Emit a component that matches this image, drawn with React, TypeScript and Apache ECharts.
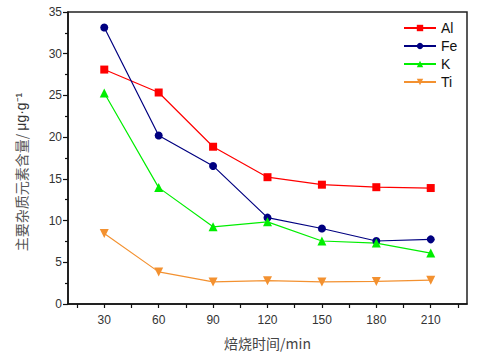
import React, { useEffect, useRef } from "react";
import * as echarts from "echarts";

const times = [30, 60, 90, 120, 150, 180, 210];
const xLabelValues = [30, 60, 90, 120, 150, 180, 210];
const xTickValues = [15, 30, 45, 60, 75, 90, 105, 120, 135, 150, 165, 180, 195, 210, 225];
const alValues = [28.1, 25.35, 18.85, 15.2, 14.3, 14.0, 13.9];
const feValues = [33.15, 20.2, 16.55, 10.35, 9.05, 7.55, 7.75];
const kValues = [25.3, 13.95, 9.25, 9.85, 7.55, 7.3, 6.1];
const tiValues = [8.45, 3.85, 2.65, 2.8, 2.65, 2.7, 2.85];

const FONT = "'Liberation Sans', Arial, 'Noto Sans CJK SC', sans-serif";

function pairs(vals: number[]) {
  return times.map((t, i) => [t, vals[i]]);
}

export default function App() {
  const ref = useRef<HTMLDivElement>(null);
  useEffect(() => {
    if (!ref.current) return;
    const chart = echarts.init(ref.current, null, { renderer: "svg" });
    const mk = (name: string, vals: number[], color: string, symbol: string, size: number, rot = 0) => ({
      name,
      type: "line",
      data: pairs(vals),
      symbol,
      symbolSize: size,
      symbolRotate: rot,
      showAllSymbol: true,
      itemStyle: { color },
      lineStyle: { color, width: 1.2 },
    });
    chart.setOption({
      animation: false,
      backgroundColor: "#fff",
      textStyle: { fontFamily: FONT },
      grid: { left: 68, right: 10, top: 12, bottom: 50, show: true, borderColor: "#222", borderWidth: 1.5, backgroundColor: "transparent" },
      legend: {
        orient: "vertical",
        left: 398,
        top: 16,
        itemWidth: 32,
        itemHeight: 8,
        itemGap: 4,
        textStyle: { fontSize: 14, color: "#111", fontFamily: FONT },
        data: ["Al", "Fe", "K", "Ti"],
      },
      xAxis: {
        type: "value",
        min: 10,
        max: 230,
        name: "焙烧时间/min",
        nameLocation: "middle",
        nameGap: 32,
        nameTextStyle: { fontSize: 14, color: "#444", fontFamily: "'Noto Sans CJK SC', 'Liberation Sans', sans-serif" },
        axisLine: { show: true, onZero: false, lineStyle: { color: "#111", width: 1.5 } },
        axisTick: { show: true, customValues: xTickValues, length: 4, lineStyle: { color: "#111", width: 1.2 } },
        axisLabel: { customValues: xLabelValues, fontSize: 12, color: "#333", margin: 10, fontFamily: FONT },
        splitLine: { show: false },
      },
      yAxis: {
        type: "value",
        min: 0,
        max: 35,
        interval: 5,
        name: "{c|主要杂质元素含量/ }{u|μg·g⁻¹}",
        nameLocation: "middle",
        nameGap: 40,
        nameTextStyle: {
          fontSize: 14,
          color: "#555",
          padding: [0, 28, 0, 0],
          rich: {
            c: { fontSize: 14, color: "#555", fontFamily: "'Noto Sans CJK SC', sans-serif" },
            u: { fontSize: 14, color: "#333", fontFamily: "'Liberation Sans', Arial, sans-serif" },
          },
        },
        axisLine: { show: true, onZero: false, lineStyle: { color: "#111", width: 1.5 } },
        axisTick: { show: true, length: 5, lineStyle: { color: "#111", width: 1.2 } },
        minorTick: { show: true, splitNumber: 2, length: 3, lineStyle: { color: "#111", width: 1.2 } },
        axisLabel: { fontSize: 12, color: "#333", margin: 6, fontFamily: FONT },
        splitLine: { show: false },
      },
      series: [
        mk("Al", alValues, "#ff0000", "rect", 8),
        mk("Fe", feValues, "#000080", "circle", 8),
        mk("K", kValues, "#00ee00", "triangle", 9),
        mk("Ti", tiValues, "#f39130", "triangle", 9, 180),
      ],
    });
    return () => chart.dispose();
  }, []);
  return <div ref={ref} style={{ position: "absolute", left: 0, top: 0, width: 477, height: 355 }} />;
}
